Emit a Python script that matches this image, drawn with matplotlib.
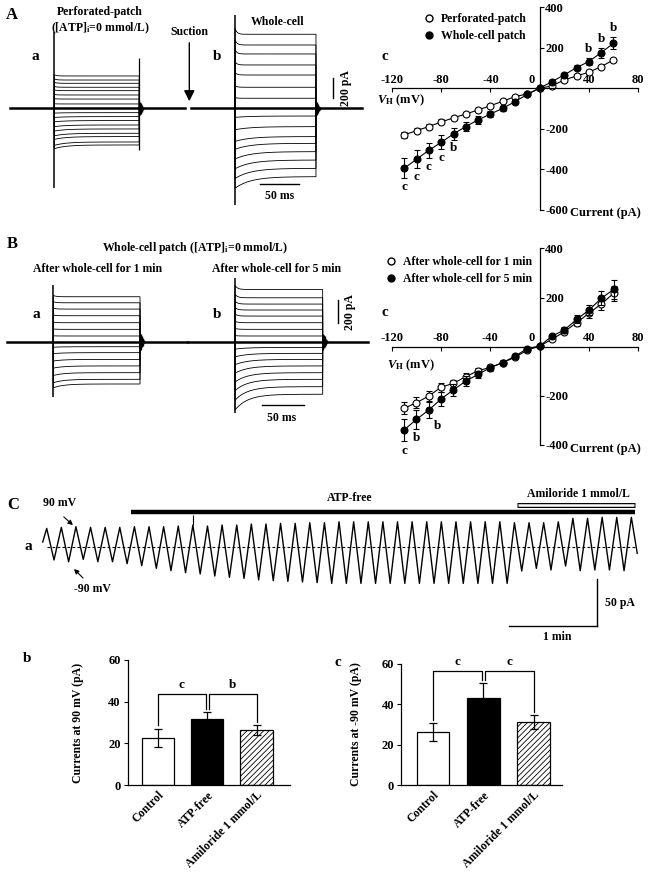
import numpy as np
import matplotlib
matplotlib.use('Agg')
import matplotlib.pyplot as plt
from matplotlib.lines import Line2D

plt.rcParams['font.family'] = ['Liberation Serif', 'DejaVu Serif']
plt.rcParams['font.weight'] = 'bold'
plt.rcParams['axes.labelweight'] = 'bold'
plt.rcParams['font.size'] = 8.5
plt.rcParams['axes.unicode_minus'] = False
plt.rcParams['mathtext.fontset'] = 'custom'
plt.rcParams['mathtext.rm'] = 'Liberation Serif:bold'
plt.rcParams['mathtext.it'] = 'Liberation Serif:italic:bold'
plt.rcParams['mathtext.bf'] = 'Liberation Serif:bold'
plt.rcParams['axes.linewidth'] = 0.9
plt.rcParams['hatch.linewidth'] = 0.6

# ---------------- data ----------------
# steady-state current of each sweep in the raw traces (pA)
A_perf_levels = [335, 293, 259, 218, 183, 138, 96, 45, 0, -45, -86, -127, -173, -214, -259, -293, -349, -380]
A_whole_levels = [767, 656, 563, 449, 345, 218, 104, 0, -80, -190, -293, -363, -449, -536, -622, -708]
B_1min_levels = [386, 334, 280, 223, 163, 106, 49, 0, -43, -94, -152, -208, -266, -323, -363]
B_5min_levels = [448, 377, 323, 272, 220, 163, 106, 49, 0, -49, -100, -152, -208, -266, -323, -386, -451]

# I-V relations
vh = [-110, -100, -90, -80, -70, -60, -50, -40, -30, -20, -10, 0, 10, 20, 30, 40, 50, 60]
A_perf = [-230, -209, -189, -166, -146, -127, -107, -86, -64, -41, -28, 0, 12, 41, 61, 79, 107, 140]
A_perf_err = [15, 14, 13, 12, 11, 10, 9, 8, 7, 6, 5, 4, 5, 6, 7, 8, 9, 10]
A_whole = [-395, -350, -306, -267, -225, -189, -156, -127, -99, -66, -30, 0, 33, 66, 102, 132, 176, 222]
A_whole_err = [49, 45, 38, 34, 28, 24, 18, 15, 12, 9, 6, 5, 8, 10, 14, 18, 25, 30]
A_sig = ['c', 'c', 'c', 'c', 'b', '', '', '', '', '', '', '', '', '', '', 'b', 'b', 'b']

B_1min = [-251, -228, -201, -165, -149, -122, -98, -84, -65, -43, -14, 3, 30, 61, 98, 136, 174, 217]
B_1min_err = [24, 22, 20, 18, 15, 13, 12, 10, 8, 6, 5, 4, 8, 10, 14, 18, 24, 30]
B_5min = [-339, -296, -258, -213, -176, -140, -113, -85, -65, -38, -8, 3, 43, 68, 111, 149, 197, 233]
B_5min_err = [44, 40, 34, 30, 25, 20, 16, 12, 9, 7, 5, 4, 8, 12, 16, 20, 28, 38]

# ramp currents, one peak (+90 mV) every 10 s and troughs (-90 mV) between them (pA)
ramp_peaks = [19.6, 20.7, 21.4, 20.7, 20.7, 20.7, 21.4, 21.4, 21.4, 22.1, 23.2, 22.1, 23.2, 23.2,
              24.3, 24.3, 25.0, 25.0, 25.7, 25.7, 26.7, 26.7, 26.7, 26.7, 26.7, 26.7, 26.7, 26.7,
              26.7, 26.7, 26.7, 26.7, 25.7, 25.7, 25.7, 26.7, 30.3, 30.3, 31.4, 31.4, 31.4]
ramp_troughs = [14.2, 16.1, 13.6, 16.1, 16.1, 18.2, 20.3, 23.2, 25.7, 27.8, 29.2, 31.4, 32.8, 33.9,
                35.6, 36.4, 37.1, 37.8, 38.5, 39.3, 39.3, 39.3, 39.3, 39.3, 39.3, 39.3, 39.3, 39.3,
                39.3, 39.3, 39.3, 39.3, 26.0, 23.2, 24.9, 20.7, 25.7, 24.9, 24.9, 25.7]
ramp_period = 10.0
ramp_start, ramp_end = 5.0, -7.0
glitch_t, glitch_top = 100.0, 33.9
atp_free_s = (58, 402.5)
amiloride_s = (322, 402.5)

groups = ['Control', 'ATP-free', 'Amiloride 1 mmol/L']
cur_pos90 = [22.7, 31.7, 26.4]
cur_pos90_err = [4.4, 3.5, 2.4]
cur_neg90 = [26.1, 43.0, 31.1]
cur_neg90_err = [4.4, 7.4, 3.4]

# ---------------- layout helpers ----------------
W, H = 655, 876
fig = plt.figure(figsize=(W / 100, H / 100), dpi=100)


def box(x0, y0, x1, y1):
    return [x0 / W, 1 - y1 / H, (x1 - x0) / W, (y1 - y0) / H]


def label(x, y, s, size=8.5, **kw):
    kw.setdefault('ha', 'center')
    kw.setdefault('va', 'center')
    fig.text(x / W, 1 - y / H, s, fontsize=size, **kw)


def trace_axes(px, ms_per_px, pa_per_px, base_y):
    x0, y0, x1, y1 = px
    ax = fig.add_axes(box(*px))
    ax.set_xlim(0, (x1 - x0) * ms_per_px)
    ax.set_ylim(-(y1 - base_y) * pa_per_px, (base_y - y0) * pa_per_px)
    ax.axis('off')
    return ax


def draw_sweeps(ax, t0, t_on, t_off, t1, levels, k_in, tau_in, k_out, tau_out, spike, off_spike=None):
    t = np.linspace(t_on, t_off, 150)
    for lv in levels:
        k, tau = (k_in, tau_in) if lv < 0 else (k_out, tau_out)
        y = lv * (1 + k * np.exp(-(t - t_on) / tau))
        ax.plot(np.r_[t_on, t, t_off], np.r_[0, y, 0], color='k', lw=0.6)
    ax.plot([t0, t1], [0, 0], color='k', lw=1.8)
    ax.vlines(t_on, spike[1], spike[0], color='k', lw=1.1)
    if off_spike:
        ax.vlines(t_off, off_spike[1], off_spike[0], color='k', lw=0.9)
    # settling blob right after the pulse
    ring = [70, 55, 45, 35, 25, 15]
    for i, r in enumerate(ring):
        ax.vlines(t_off + 0.8 + 0.8 * i, -r, r, color='k', lw=0.9)


def iv_axes(px, ylim, yticks):
    ax = fig.add_axes(box(*px))
    ax.set_xlim(-120, 80)
    ax.set_ylim(*ylim)
    ax.patch.set_alpha(0)
    ax.spines['left'].set_visible(False)
    ax.spines['right'].set_position(('data', 0))
    ax.spines['bottom'].set_position(('data', 0))
    ax.spines['top'].set_position(('data', 0))
    ax.spines['top'].set_visible(False)
    ax.yaxis.tick_right()
    ax.set_yticks(yticks)
    ax.set_yticklabels([str(v) for v in yticks])
    xt = [-120, -80, -40, 0, 40, 80]
    ax.set_xticks(xt)
    ax.set_xticklabels(['' if v == 0 else str(v) for v in xt])
    ax.tick_params(axis='x', bottom=True, top=False, labelbottom=False, labeltop=True,
                   direction='out', length=3, pad=-1, labelsize=9)
    ax.tick_params(axis='y', direction='out', length=3, pad=1, labelsize=9)
    ax.annotate('0', (0, 0), xytext=(-6, 2), textcoords='offset points',
                ha='center', va='bottom', fontsize=9)
    return ax


def iv_series(ax, y, err, filled):
    ax.errorbar(vh, y, yerr=err, fmt='-o', color='k', lw=0.8, elinewidth=0.8, capsize=2,
                ms=5, mfc='k' if filled else 'white', mec='k', mew=0.8,
                zorder=3 if filled else 2)


def iv_legend(ax, x, y, names):
    hs = [Line2D([], [], marker='o', ls='none', mfc='white', mec='k', ms=5),
          Line2D([], [], marker='o', ls='none', mfc='k', mec='k', ms=5)]
    ax.legend(hs, names, loc='upper left', bbox_to_anchor=(x / W, 1 - y / H),
              bbox_transform=fig.transFigure, frameon=False, borderpad=0, borderaxespad=0,
              handlelength=0.9, handletextpad=0.5, labelspacing=0.45, fontsize=8.5)


# ---------------- A: traces ----------------
axA = trace_axes((0, 0, 370, 230), 50 / 39.3, 200 / 19.3, 108.3)
draw_sweeps(axA, 12.7, 69.1, 177.2, 235.4, A_perf_levels, 0.10, 15, 0.04, 3,
            (787, -829), off_spike=(518, -435))
draw_sweeps(axA, 242.6, 299, 402, 460.2, A_whole_levels, 0.17, 20, 0.08, 2.5, (963, -1005))
axA.plot([424, 424], [110, 310], color='k', lw=1)
axA.plot([330.8, 380.8], [-784, -784], color='k', lw=1)

label(12, 15, 'A', size=12)
label(100, 11.5, 'Perforated-patch')
label(100, 28.5, '([ATP]$_\\mathrm{i}$=0 mmol/L)')
label(189, 32, 'Suction')
axA.annotate('', xy=(189.3 * 50 / 39.3, (108.3 - 104) * 200 / 19.3),
             xytext=(189.3 * 50 / 39.3, (108.3 - 40) * 200 / 19.3),
             arrowprops=dict(arrowstyle='-|>', color='k', lw=1, mutation_scale=16))
label(35, 57, 'a', size=11)
label(217, 57, 'b', size=11)
label(278, 22, 'Whole-cell')
label(346, 88, '200 pA', rotation=90)
label(279.5, 196, '50 ms')

# ---------------- B: traces ----------------
axB = trace_axes((0, 230, 370, 480), 50 / 42.3, 200 / 23.3, 341.7)
draw_sweeps(axB, 7.9, 63, 165.5, 220.7, B_1min_levels, 0.09, 12, 0.03, 3, (486, -471))
draw_sweeps(axB, 222.6, 277.8, 381.4, 435.3, B_5min_levels, 0.3, 15, 0.08, 3, (543, -614))
axB.plot([399.5, 399.5], [158, 358], color='k', lw=1)
axB.plot([309.3, 359.3], [-542, -542], color='k', lw=1)

label(12, 244, 'B', size=12)
label(195, 248, 'Whole-cell patch ([ATP]$_\\mathrm{i}$=0 mmol/L)')
label(98, 269, 'After whole-cell for 1 min')
label(277, 269, 'After whole-cell for 5 min')
label(36, 315, 'a', size=11)
label(217, 315, 'b', size=11)
label(350, 312, '200 pA', rotation=90)
label(282, 418, '50 ms')

# ---------------- A c: I-V ----------------
axIA = iv_axes((392, 7.3, 638, 209.8), (-600, 400), [-600, -400, -200, 200, 400])
iv_series(axIA, A_perf, A_perf_err, False)
iv_series(axIA, A_whole, A_whole_err, True)
for v, y, e, s in zip(vh, A_whole, A_whole_err, A_sig):
    if s:
        below = y < 0
        axIA.annotate(s, (v, y - e if below else y + e), xytext=(0, -2 if below else 2),
                      textcoords='offset points', ha='center',
                      va='top' if below else 'bottom', fontsize=9.5)
iv_legend(axIA, 424, 13, ['Perforated-patch', 'Whole-cell patch'])
label(385, 57, 'c', size=11)
label(377, 100, '$V_\\mathrm{H}$ (mV)', size=9, ha='left')
label(570, 213, 'Current (pA)', size=9, ha='left')

# ---------------- B c: I-V ----------------
axIB = iv_axes((391.7, 248.4, 638.3, 445), (-400, 400), [-400, -200, 200, 400])
iv_series(axIB, B_1min, B_1min_err, False)
iv_series(axIB, B_5min, B_5min_err, True)
axIB.annotate('c', (vh[0], B_5min[0] - B_5min_err[0]), xytext=(0, -3), textcoords='offset points',
              ha='center', va='top', fontsize=9.5)
axIB.annotate('b', (vh[1], B_5min[1] - B_5min_err[1]), xytext=(0, -2), textcoords='offset points',
              ha='center', va='top', fontsize=9.5)
axIB.annotate('b', (vh[2], B_5min[2] - B_5min_err[2]), xytext=(6, -1), textcoords='offset points',
              ha='center', va='top', fontsize=9.5)
iv_legend(axIB, 386, 256, ['After whole-cell for 1 min', 'After whole-cell for 5 min'])
label(385, 313, 'c', size=11)
label(387, 365, '$V_\\mathrm{H}$ (mV)', size=9, ha='left')
label(570, 449, 'Current (pA)', size=9, ha='left')

# ---------------- C a: ramp currents ----------------
ppx = 87.7 / 60.0          # px per second
apx = 46.7 / 50.0          # px per pA
axC = fig.add_axes(box(0, 490, 655, 660))
axC.set_xlim((0 - 46.7) / ppx, (655 - 46.7) / ppx)
axC.set_ylim((546.7 - 660) / apx, (546.7 - 490) / apx)
axC.axis('off')

t_pk = np.arange(len(ramp_peaks)) * ramp_period
t_tr = t_pk[:-1] + ramp_period / 2
tt = np.empty(len(t_pk) + len(t_tr))
yy = np.empty_like(tt)
tt[0::2], tt[1::2] = t_pk, t_tr
yy[0::2], yy[1::2] = ramp_peaks, -np.array(ramp_troughs)
tt = np.r_[-2.7, tt, t_pk[-1] + 4.0]
yy = np.r_[ramp_start, yy, ramp_end]
axC.plot(tt, yy, color='k', lw=1.0)
axC.vlines(glitch_t, ramp_peaks[10], glitch_top, color='k', lw=0.8)
axC.plot([tt[0] + 2.7, tt[-1]], [0, 0], color='k', lw=0.8, ls=(0, (2.5, 2)))

y_atp = (546.7 - 512) / apx
y_ami = (546.7 - 505) / apx
axC.plot(atp_free_s, [y_atp, y_atp], color='k', lw=3.2, solid_capstyle='butt')
axC.plot(amiloride_s, [y_ami, y_ami], color='k', lw=3.6, solid_capstyle='butt')
axC.plot([amiloride_s[0] + 0.7, amiloride_s[1] - 0.7], [y_ami, y_ami], color='white', lw=1.8,
         solid_capstyle='butt')

# scale bars 50 pA / 1 min
xs = (596.7 - 46.7) / ppx
y_lo = (546.7 - 625.7) / apx
axC.plot([xs, xs], [y_lo + 50, y_lo], color='k', lw=1)
axC.plot([xs - 60, xs], [y_lo, y_lo], color='k', lw=1)

label(13, 505, 'C', size=12)
label(28, 547, 'a', size=11)
label(60, 503, '90 mV')
label(92, 589, '-90 mV')
label(350, 498, 'ATP-free')
label(578, 494, 'Amiloride 1 mmol/L')
label(620, 603, '50 pA')
label(557, 637, '1 min')
axC.annotate('', xy=((75 - 46.7) / ppx, (546.7 - 527) / apx),
             xytext=((61.7 - 46.7) / ppx, (546.7 - 515) / apx),
             arrowprops=dict(arrowstyle='-|>', color='k', lw=0.8, mutation_scale=7))
axC.annotate('', xy=((72 - 46.7) / ppx, (546.7 - 567) / apx),
             xytext=((85 - 46.7) / ppx, (546.7 - 580) / apx),
             arrowprops=dict(arrowstyle='-|>', color='k', lw=0.8, mutation_scale=7))


# ---------------- C b, c: bar charts ----------------
def bar_panel(px, xlim, vals, errs, ylab, ylab_x, pairs, bracket_h):
    ax = fig.add_axes(box(*px))
    x = np.arange(len(vals))
    bars = ax.bar(x, vals, width=0.65, color=['white', 'black', 'white'], edgecolor='k', lw=0.9)
    bars[2].set_hatch('//////')
    ax.errorbar(x, vals, yerr=errs, fmt='none', ecolor='k', elinewidth=0.9, capsize=3, capthick=0.9)
    ax.set_xlim(*xlim)
    ax.set_ylim(0, 60)
    ax.set_yticks([0, 20, 40, 60])
    ax.spines['top'].set_visible(False)
    ax.spines['right'].set_visible(False)
    ax.tick_params(axis='y', direction='out', length=3, labelsize=9, pad=2)
    ax.tick_params(axis='x', length=0, pad=3)
    ax.set_xticks(x)
    ax.set_xticklabels(groups, rotation=45, ha='right', rotation_mode='anchor', fontsize=8.5)
    ax.set_ylabel(ylab, fontsize=8.5)
    ax.yaxis.set_label_coords(ylab_x, 0.5)
    tops = np.array(vals) + np.array(errs)
    for (i, j, s) in pairs:
        xi = i + (0.03 if i == 1 else 0)
        xj = j - (0.03 if j == 1 else 0)
        ax.plot([xi, xi, xj, xj], [tops[i] + 1.5, bracket_h, bracket_h, tops[j] + 1.5],
                color='k', lw=0.9, clip_on=False)
        ax.text((xi + xj) / 2, bracket_h + 1.2, s, ha='center', va='bottom', fontsize=9.5)
    return ax


bar_panel((127.7, 660, 290, 785), (-0.615, 2.68), cur_pos90, cur_pos90_err,
          'Currents at 90 mV (pA)', -0.27, [(0, 1, 'c'), (1, 2, 'b')], 43.7)
bar_panel((401, 664, 561.7, 785), (-0.637, 2.56), cur_neg90, cur_neg90_err,
          'Currents at -90 mV (pA)', -0.24, [(0, 1, 'c'), (1, 2, 'c')], 56.7)
label(27, 658, 'b', size=11)
label(338, 662, 'c', size=11)

fig.savefig('out.png', dpi=100)
